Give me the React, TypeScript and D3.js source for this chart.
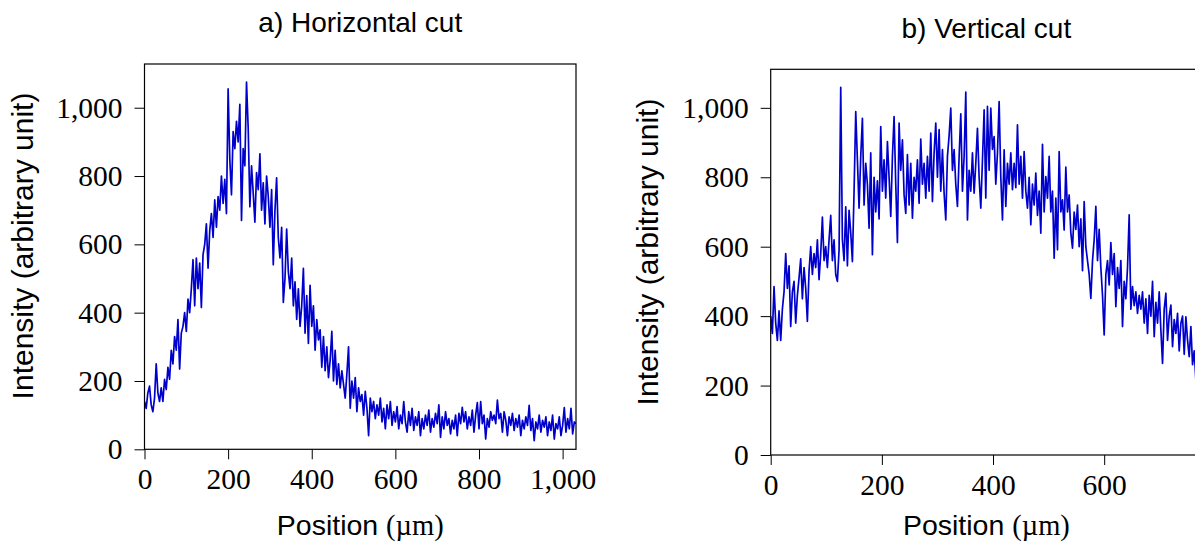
import * as d3 from "d3";
import * as React from "react";

// a) horizontal cut, one reading every 4 µm (0 .. 1032)
const hStep = 4;
const hValues = [
  140, 120, 165, 185, 130, 110, 150, 250, 165, 140,
  180, 140, 205, 175, 240, 205, 290, 250, 330, 290,
  380, 235, 340, 360, 400, 345, 440, 400, 470, 555,
  420, 560, 470, 545, 415, 570, 600, 660, 530, 640,
  690, 620, 730, 650, 740, 700, 800, 720, 790, 690,
  1055, 850, 745, 930, 880, 960, 900, 1010, 670, 880,
  830, 1075, 940, 710, 830, 750, 665, 810, 760, 865,
  700, 780, 660, 800, 740, 650, 760, 540, 700, 795,
  620, 560, 650, 430, 500, 645, 520, 470, 560, 420,
  490, 380, 470, 360, 420, 530, 340, 450, 310, 480,
  360, 420, 290, 380, 320, 350, 240, 330, 230, 300,
  210, 260, 345, 200, 290, 190, 250, 180, 230, 190,
  150, 220, 300, 120, 200, 150, 210, 110, 180, 140,
  160, 100, 170, 120, 40, 150, 110, 140, 90, 130,
  100, 150, 80, 120, 60, 130, 90, 140, 70, 110,
  80, 125, 60, 100, 75, 140, 80, 50, 110, 70,
  120, 55, 95, 70, 110, 40, 90, 60, 100, 70,
  115, 50, 90, 65, 105, 75, 130, 35, 95, 60,
  110, 70, 90, 45, 85, 60, 100, 40, 105, 75,
  123, 80, 110, 60, 95, 70, 115, 50, 100, 137,
  60, 140, 75, 100, 30, 90, 65, 110, 85, 100,
  75, 144, 90, 105, 50, 110, 85, 40, 95, 70,
  105, 55, 90, 65, 100, 40, 85, 60, 95, 70,
  129, 55, 90, 25, 80, 60, 100, 50, 85, 65,
  95, 40, 80, 55, 100, 30, 75, 60, 95, 40,
  70, 122, 50, 90, 60, 120, 45, 80, 75,
];

// b) vertical cut, one reading every 3 µm (0 .. 765)
const vStep = 3;
const vValues = [
  400, 350, 485, 380, 330, 415, 330, 420, 470, 580,
  480, 545, 370, 470, 500, 380, 460, 510, 565, 450,
  540, 480, 385, 530, 600, 520, 580, 540, 620, 505,
  580, 685, 560, 600, 540, 620, 690, 560, 620, 520,
  500, 590, 1059, 620, 560, 715, 545, 705, 640, 557,
  760, 989, 850, 711, 860, 970, 720, 840, 780, 653,
  870, 577, 800, 700, 790, 680, 946, 760, 850, 740,
  903, 800, 687, 860, 975, 780, 612, 956, 820, 908,
  750, 696, 865, 720, 840, 682, 800, 760, 850, 725,
  910, 780, 840, 740, 860, 760, 927, 730, 870, 956,
  800, 937, 760, 880, 754, 677, 860, 920, 999, 820,
  880, 780, 716, 860, 983, 760, 860, 1045, 677, 820,
  760, 870, 754, 840, 941, 800, 711, 850, 994, 740,
  1004, 820, 999, 880, 917, 780, 870, 1018, 800, 677,
  879, 716, 840, 780, 870, 764, 840, 770, 951, 780,
  860, 740, 874, 760, 711, 800, 663, 780, 720, 812,
  690, 760, 639, 895, 700, 802, 740, 860, 700, 760,
  567, 740, 591, 874, 700, 735, 648, 829, 700, 749,
  640, 596, 700, 650, 720, 600, 680, 531, 730, 600,
  560, 520, 451, 560, 620, 716, 560, 650, 540, 460,
  346, 520, 560, 490, 612, 520, 580, 427, 540, 480,
  560, 370, 500, 450, 540, 692, 420, 485, 430, 470,
  408, 460, 420, 470, 380, 450, 350, 460, 400, 500,
  341, 440, 380, 470, 360, 264, 420, 466, 330, 400,
  432, 312, 390, 350, 408, 300, 380, 400, 290, 398,
  330, 283, 370, 260, 300, 216,
];

const yTicks = [0, 200, 400, 600, 800, 1000];
const hXTicks = [0, 200, 400, 600, 800, 1000];
const vXTicks = [0, 200, 400, 600];

const serif = "'Liberation Serif', 'DejaVu Serif', serif";
const sans = "'Liberation Sans', Arial, sans-serif";
const lineColor = "#0000cc";

interface PanelProps {
  id: string;
  title: string;
  values: number[];
  step: number;
  xMax: number;
  yMax: number;
  xTicks: number[];
  left: number;
  top: number;
  width: number;
  height: number;
  titleY: number;
  xLabelY: number;
  yLabelX: number;
  yLabelY: number;
}

function Panel(props: PanelProps) {
  const { id, title, values, step, xMax, yMax, xTicks, left, top, width, height, titleY, xLabelY, yLabelX, yLabelY } = props;
  const x = d3.scaleLinear().domain([0, xMax]).range([0, width]);
  const y = d3.scaleLinear().domain([0, yMax]).range([height, 0]);
  const line = d3.line<number>()
    .x((d, i) => x(i * step))
    .y((d) => y(d));

  const fmt = d3.format(",");
  const aBottom = d3.axisBottom(x).tickValues(xTicks).tickSize(10).tickSizeOuter(0).tickPadding(9).tickFormat((d: any) => fmt(d));
  const aLeft = d3.axisLeft(y).tickValues(yTicks).tickSize(10).tickSizeOuter(0).tickPadding(12).tickFormat((d: any) => fmt(d));

  const styleAxis = (g: SVGGElement | null, axis: any) => {
    if (!g) return;
    const sel = d3.select(g);
    sel.selectAll("*").remove();
    sel.call(axis);
    sel.select(".domain").remove();
    sel.attr("font-family", serif).attr("font-size", 29.5);
    sel.selectAll(".tick line").attr("stroke", "#000").attr("stroke-width", 1);
    sel.selectAll(".tick text").attr("fill", "#000");
  };

  return (
    <g transform={"translate(" + left + "," + top + ")"}>
      <defs>
        <clipPath id={"clip_" + id}>
          <rect x={0} y={0} width={width} height={height} />
        </clipPath>
      </defs>
      <text x={width / 2} y={titleY - top} textAnchor="middle" fontFamily={sans} fontSize={28}>{title}</text>
      <g ref={(g) => styleAxis(g, aBottom)} transform={"translate(0," + height + ")"}></g>
      <g ref={(g) => styleAxis(g, aLeft)}></g>
      <path d={line(values) || ""} fill="none" stroke={lineColor} strokeWidth={1.7} strokeLinejoin="round" clipPath={"url(#clip_" + id + ")"} />
      <rect x={0} y={0} width={width} height={height} fill="none" stroke="#000" strokeWidth={1.2} />
      <text x={width / 2} y={xLabelY - top} textAnchor="middle" fontSize={28.5}>
        <tspan fontFamily={sans}>Position </tspan>
        <tspan fontFamily={serif}>(µm)</tspan>
      </text>
      <text transform={"translate(" + (yLabelX - left) + "," + (yLabelY - top) + ") rotate(-90)"} textAnchor="middle" fontFamily={sans} fontSize={30}>
        Intensity (arbitrary unit)
      </text>
    </g>
  );
}

export default function App() {
  return (
    <div style={{ position: "absolute", left: 0, top: 0 }}>
      <svg width={1195} height={544} style={{ display: "block", background: "#fff" }}>
        <Panel id="h" title="a) Horizontal cut" values={hValues} step={hStep} xMax={1032} yMax={1128} xTicks={hXTicks}
          left={144.5} top={64} width={431.5} height={385.3} titleY={32} xLabelY={535} yLabelX={33} yLabelY={246} />
        <Panel id="v" title="b) Vertical cut" values={vValues} step={vStep} xMax={776} yMax={1111} xTicks={vXTicks}
          left={770.7} top={69.3} width={431.3} height={385.7} titleY={38} xLabelY={535} yLabelX={658} yLabelY={252} />
      </svg>
    </div>
  );
}
